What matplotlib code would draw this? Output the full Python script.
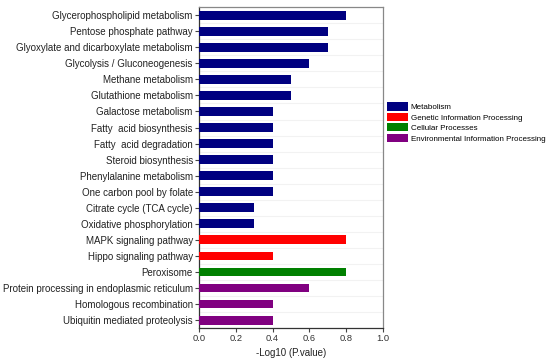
import matplotlib.pyplot as plt
from matplotlib.patches import Patch
import numpy as np

plt.rcParams["font.family"] = ["Liberation Sans", "DejaVu Sans"]

pathways = [
    "Glycerophospholipid metabolism",
    "Pentose phosphate pathway",
    "Glyoxylate and dicarboxylate metabolism",
    "Glycolysis / Gluconeogenesis",
    "Methane metabolism",
    "Glutathione metabolism",
    "Galactose metabolism",
    "Fatty  acid biosynthesis",
    "Fatty  acid degradation",
    "Steroid biosynthesis",
    "Phenylalanine metabolism",
    "One carbon pool by folate",
    "Citrate cycle (TCA cycle)",
    "Oxidative phosphorylation",
    "MAPK signaling pathway",
    "Hippo signaling pathway",
    "Peroxisome",
    "Protein processing in endoplasmic reticulum",
    "Homologous recombination",
    "Ubiquitin mediated proteolysis",
]
values = [0.8, 0.7, 0.7, 0.6, 0.5, 0.5, 0.4, 0.4, 0.4, 0.4,
          0.4, 0.4, 0.3, 0.3, 0.8, 0.4, 0.8, 0.6, 0.4, 0.4]
groups = ["Metabolism"] * 14 + ["Genetic Information Processing"] * 2 + \
    ["Cellular Processes"] + ["Environmental Information Processing"] * 3

group_names = ["Metabolism", "Genetic Information Processing",
               "Cellular Processes", "Environmental Information Processing"]
group_colors = {"Metabolism": "#000080",
                "Genetic Information Processing": "#ff0000",
                "Cellular Processes": "#008000",
                "Environmental Information Processing": "#800080"}

fig = plt.figure(figsize=(5.5, 3.59), dpi=100)
ax = fig.add_axes([0.362, 0.086, 0.334, 0.894])

y = np.arange(len(pathways))
ax.barh(y, values, height=0.55, color=[group_colors[g] for g in groups], zorder=3)

ax.set_ylim(len(pathways) - 0.5, -0.5)
ax.set_xlim(0, 1.0)
ax.set_yticks(y)
ax.set_yticklabels(pathways, fontsize=7.0, color="#222222")
ax.set_xticks([0.0, 0.2, 0.4, 0.6, 0.8, 1.0])
ax.set_xticklabels(["0.0", "0.2", "0.4", "0.6", "0.8", "1.0"], fontsize=6.7, color="#333333")
ax.set_xlabel("-Log10 (P.value)", fontsize=7, color="#222222", labelpad=3)

ax.set_yticks(np.arange(len(pathways) + 1) - 0.5, minor=True)
ax.grid(axis="y", which="minor", color="#f2f2f2", linewidth=0.8, zorder=0)
ax.tick_params(axis="y", which="minor", length=0)
ax.tick_params(axis="both", which="major", length=3, width=0.8, color="#444444", pad=1.5)

for side in ["left", "bottom"]:
    ax.spines[side].set_color("#333333")
    ax.spines[side].set_linewidth(0.9)
for side in ["top", "right"]:
    ax.spines[side].set_color("#888888")
    ax.spines[side].set_linewidth(0.9)

handles = [Patch(facecolor=group_colors[g], edgecolor="none") for g in group_names]
fig.legend(handles, group_names, loc="upper left", bbox_to_anchor=(0.703, 0.715),
           fontsize=5.8, frameon=False, handlelength=2.6, handleheight=1.2,
           handletextpad=0.4, labelspacing=0.2, borderaxespad=0, borderpad=0)

fig.savefig("out.png", dpi=100)
